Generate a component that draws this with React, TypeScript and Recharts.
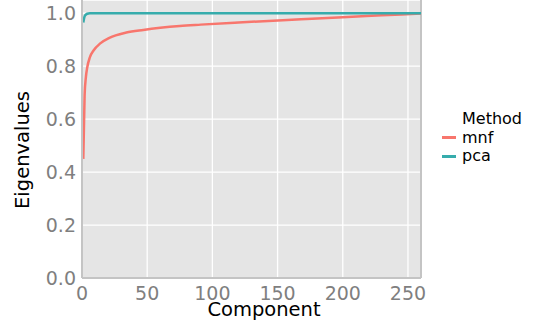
import { LineChart, Line, XAxis, YAxis, CartesianGrid, Legend, Label, ReferenceLine } from 'recharts';

const mnfComponents = [1, 2, 3, 4, 6, 9, 14, 21, 34, 47, 60, 75, 91, 120, 168, 200, 230, 260];
const mnfValues = [0.45, 0.69, 0.76, 0.795, 0.833, 0.86, 0.886, 0.907, 0.927, 0.937, 0.945, 0.952, 0.957, 0.965, 0.977, 0.985, 0.992, 0.999];

const pcaComponents = [1, 2, 3, 4, 6, 260];
const pcaValues = [0.965, 0.988, 0.995, 0.998, 1.0, 1.0];

const xTicks = [0, 50, 100, 150, 200, 250];
const yTicks = [0, 0.2, 0.4, 0.6, 0.8, 1.0];

const methods = [
  { name: 'mnf', color: '#f8766d' },
  { name: 'pca', color: '#36acac' },
];

const mnfData = mnfComponents.map((c, i) => ({ component: c, value: mnfValues[i] }));
const pcaData = pcaComponents.map((c, i) => ({ component: c, value: pcaValues[i] }));

const FONT = '"DejaVu Sans", sans-serif';
const TICK = { fill: '#7f7f7f', fontSize: 19, fontFamily: FONT };

const MethodLegend = () => (
  <div style={{ fontFamily: FONT, fontSize: 16, color: '#000', lineHeight: '18.5px' }}>
    <div style={{ paddingLeft: 20 }}>Method</div>
    {methods.map((m) => (
      <div key={m.name} style={{ display: 'flex', alignItems: 'center' }}>
        <span style={{ display: 'inline-block', width: 14, height: 3, background: m.color, marginRight: 6 }} />
        {m.name}
      </div>
    ))}
  </div>
);

export default function App() {
  return (
    <div style={{ position: 'fixed', left: 0, top: 0, width: 533, height: 323, background: '#fff' }}>
      <LineChart width={533} height={323} margin={{ top: 0, right: 112, bottom: 0, left: 0 }}>
        <CartesianGrid fill="#e5e5e5" stroke="#ffffff" strokeWidth={1.3} />
        <XAxis
          type="number"
          dataKey="component"
          domain={[0, 260]}
          ticks={xTicks}
          allowDataOverflow
          height={45}
          tick={TICK}
          tickLine={false}
          tickSize={7}
          axisLine={{ stroke: '#c4c4c4', strokeWidth: 2 }}
        >
          <Label
            content={() => (
              <text x={264} y={309} textAnchor="middle" dy="0.35em" fontSize={19.5} fontFamily={FONT} fill="#000">
                Component
              </text>
            )}
          />
        </XAxis>
        <YAxis
          type="number"
          domain={[0, 1.05]}
          ticks={yTicks}
          allowDataOverflow
          width={82}
          tick={TICK}
          tickLine={false}
          tickSize={4}
          tickFormatter={(v: number) => v.toFixed(1)}
          axisLine={{ stroke: '#c4c4c4', strokeWidth: 2 }}
        >
          <Label
            content={() => (
              <text
                x={22}
                y={150}
                textAnchor="middle"
                dy="0.35em"
                fontSize={19.5}
                fontFamily={FONT}
                fill="#000"
                transform="rotate(-90, 22, 150)"
              >
                Eigenvalues
              </text>
            )}
          />
        </YAxis>
        <ReferenceLine x={260} stroke="#c4c4c4" strokeWidth={2} />
        <Legend
          layout="horizontal"
          verticalAlign="middle"
          align="center"
          wrapperStyle={{ left: 442, top: 110, width: 90 }}
          content={() => <MethodLegend />}
        />
        <Line
          data={mnfData}
          dataKey="value"
          name="mnf"
          type="monotone"
          stroke={methods[0].color}
          strokeWidth={2.5}
          dot={false}
          isAnimationActive={false}
        />
        <Line
          data={pcaData}
          dataKey="value"
          name="pca"
          type="monotone"
          stroke={methods[1].color}
          strokeWidth={2.5}
          dot={false}
          isAnimationActive={false}
        />
      </LineChart>
    </div>
  );
}
